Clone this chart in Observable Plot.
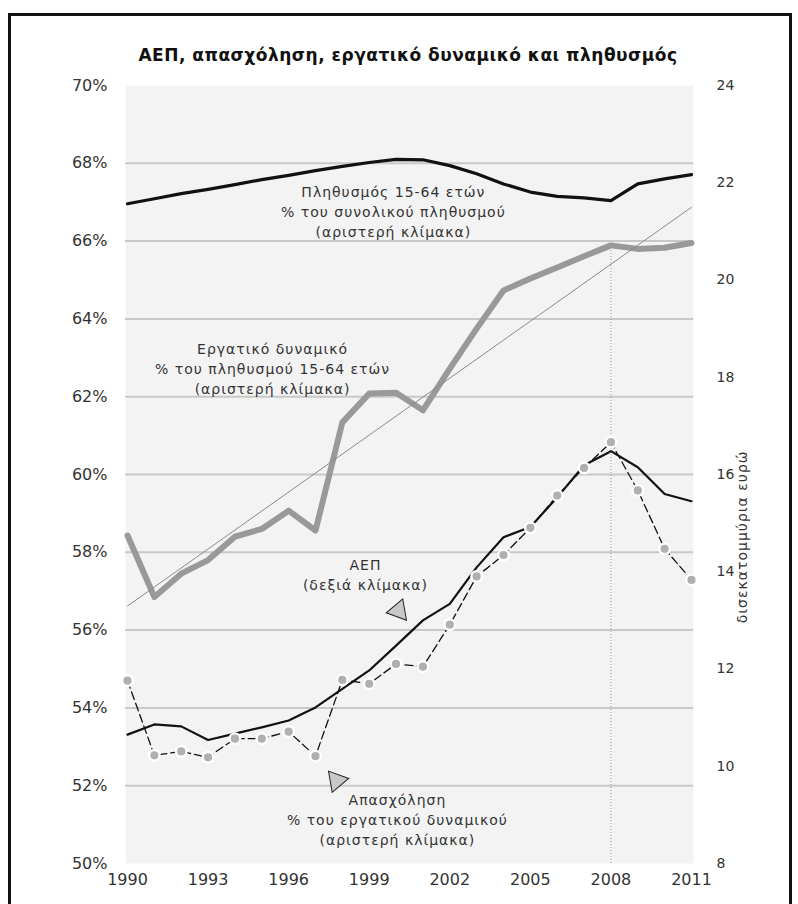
<!DOCTYPE html>
<html>
<head>
<meta charset="utf-8">
<script src="https://cdn.jsdelivr.net/npm/d3@7"></script>
<script src="https://cdn.jsdelivr.net/npm/@observablehq/plot@0.6"></script>
<style>
html,body{margin:0;padding:0;background:#fff;overflow:hidden;width:798px;height:904px}
#frame{position:absolute;left:8px;top:13px;width:784px;height:900px;border:3px solid #111;border-bottom:none;box-sizing:border-box}
#title{position:absolute;top:45px;left:408px;transform:translateX(-50%);white-space:nowrap;font:bold 17px "DejaVu Sans";letter-spacing:0.5px;color:#111}
#chart{position:absolute;left:0;top:70px}
</style>
</head>
<body>
<div id="frame"></div>
<div id="title">ΑΕΠ, απασχόληση, εργατικό δυναμικό και πληθυσμός</div>
<div id="chart"></div>
<script>
// ---- data ----
const years = [1990,1991,1992,1993,1994,1995,1996,1997,1998,1999,2000,2001,2002,2003,2004,2005,2006,2007,2008,2009,2010,2011];
// Population 15-64 as % of total population (left scale)
const population = [66.96,67.09,67.22,67.33,67.45,67.58,67.69,67.81,67.92,68.02,68.10,68.09,67.94,67.73,67.47,67.26,67.15,67.11,67.04,67.47,67.60,67.71];
// Labour force as % of population 15-64 (left scale)
const laborForce = [58.43,56.85,57.45,57.80,58.40,58.60,59.07,58.56,61.34,62.08,62.10,61.65,62.72,63.75,64.73,65.04,65.32,65.61,65.89,65.80,65.83,65.95];
// Employment as % of labour force (left scale)
const employment = [54.70,52.78,52.88,52.73,53.21,53.21,53.39,52.76,54.72,54.62,55.13,55.06,56.14,57.38,57.93,58.63,59.46,60.17,60.83,59.59,58.09,57.29];
// GDP, billion euros (right scale)
const gdp = [10.65,10.86,10.82,10.54,10.67,10.80,10.94,11.21,11.59,11.97,12.48,13.00,13.34,14.09,14.71,14.92,15.53,16.19,16.48,16.15,15.60,15.45];
// Thin linear trend of the labour force line
const trendYears = [1990, 2011];
const trendValues = [56.62, 66.87];

const xTicks = [1990,1993,1996,1999,2002,2005,2008,2011];
const leftTicks = [50,52,54,56,58,60,62,64,66,68,70];
const rightTicks = [8,10,12,14,16,18,20,22,24];
const markerYear = 2008;

const titleText = "ΑΕΠ, απασχόληση, εργατικό δυναμικό και πληθυσμός";
const rightAxisLabel = "δισεκατομμύρια ευρώ";

// annotations (text block centres, in data space)
const annotationTexts = [
  "Πληθυσμός 15-64 ετών\n% του συνολικού πληθυσμού\n(αριστερή κλίμακα)",
  "Εργατικό δυναμικό\n% του πληθυσμού 15-64 ετών\n(αριστερή κλίμακα)",
  "ΑΕΠ\n(δεξιά κλίμακα)",
  "Απασχόληση\n% του εργατικού δυναμικού\n(αριστερή κλίμακα)"
];
const annotationYears = [1999.9, 1995.4, 1998.86, 2000.05];
const annotationValues = [66.79, 62.75, 57.45, 51.16];
// pointer triangles
const pointerYears = [2000.09, 1997.78];
const pointerValues = [56.50, 52.13];
const pointerAngles = [140, -40];

// ---- mapping of the right scale onto the left one ----
const L0 = leftTicks[0], L1 = leftTicks[leftTicks.length-1];
const R0 = rightTicks[0], R1 = rightTicks[rightTicks.length-1];
const toLeft = v => L0 + (v - R0) * (L1 - L0) / (R1 - R0);
const fromLeft = v => R0 + (v - L0) * (R1 - R0) / (L1 - L0);

const rows = years.map((year, i) => ({
  year, population: population[i], laborForce: laborForce[i],
  employment: employment[i], gdp: gdp[i]
}));
const trend = trendYears.map((year, i) => ({year, value: trendValues[i]}));
const annotations = annotationTexts.map((text, i) => ({text, year: annotationYears[i], value: annotationValues[i]}));
const pointers = pointerYears.map((year, i) => ({year, value: pointerValues[i], angle: pointerAngles[i]}));
const markerRow = rows.find(d => d.year === markerYear);

const chart = Plot.plot({
  width: 798,
  height: 823,
  marginLeft: 127,
  marginRight: 107,
  marginTop: 15,
  marginBottom: 30,
  style: {fontFamily: "DejaVu Sans", fontSize: "13px", color: "#333", background: "transparent", overflow: "visible"},
  x: {domain: [years[0], years[years.length-1]]},
  y: {domain: [L0, L1]},
  marks: [
    Plot.frame({fill: "#f3f3f3", stroke: null, insetLeft: -2, insetRight: -2}),
    Plot.ruleY(leftTicks.filter(t => t > L0 && t < L1), {stroke: "#c8c8c8", strokeWidth: 2, insetLeft: -2, insetRight: -2}),
    Plot.ruleX([markerRow], {x: "year", y1: () => L0, y2: "laborForce", stroke: "#9a9a9a", strokeWidth: 1, strokeDasharray: "1,2"}),
    Plot.line(rows, {x: "year", y: "laborForce", stroke: "#999", strokeWidth: 6}),
    Plot.line(trend, {x: "year", y: "value", stroke: "#8a8a8a", strokeWidth: 1}),
    Plot.line(rows, {x: "year", y: "population", stroke: "#111", strokeWidth: 3.2}),
    Plot.line(rows, {x: "year", y: d => toLeft(d.gdp), stroke: "#111", strokeWidth: 2.2}),
    Plot.line(rows, {x: "year", y: "employment", stroke: "#111", strokeWidth: 1.3, strokeDasharray: "8,4"}),
    Plot.dot(rows, {x: "year", y: "employment", r: 5.3, fill: "#b0b0b0", stroke: "white", strokeWidth: 2.4}),
    Plot.dot(pointers, {x: "year", y: "value", rotate: "angle", symbol: "triangle", r: 8, fill: "#c8c8c8", stroke: "#222", strokeWidth: 1}),
    Plot.text(annotations, {x: "year", y: "value", text: "text", fontSize: 14, lineHeight: 1.45, fill: "#333"}),
    Plot.text([rightAxisLabel], {frameAnchor: "right", dx: 51, dy: -24, rotate: -90, fontSize: 14, fill: "#333"}),
    Plot.axisX({ticks: xTicks, tickFormat: d => String(d), tickSize: 0, tickPadding: 10, fontSize: 16, label: null}),
    Plot.axisY({ticks: leftTicks, tickFormat: d => d + "%", tickSize: 0, tickPadding: 20, fontSize: 16, anchor: "left", label: null}),
    Plot.axisY({ticks: rightTicks.map(toLeft), tickFormat: d => String(Math.round(fromLeft(d))), tickSize: 0, tickPadding: 25, fontSize: 14, anchor: "right", label: null})
  ]
});
d3.select(chart).selectAll('g[aria-label="text"] text').style("letter-spacing", "1px");
document.getElementById("chart").appendChild(chart);
document.getElementById("title").textContent = titleText;
</script>
</body>
</html>
